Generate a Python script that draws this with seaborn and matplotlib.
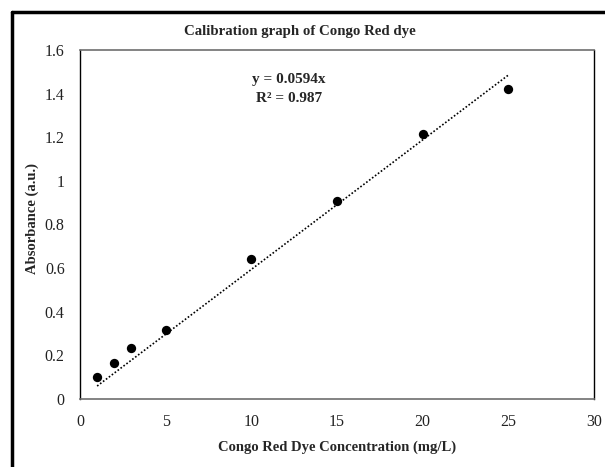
import numpy as np
import pandas as pd
import matplotlib
matplotlib.use("Agg")
import matplotlib.pyplot as plt
import seaborn as sns

# Calibration measurements
concentration = [1, 2, 3, 5, 10, 15, 20, 25]          # mg/L
absorbance = [0.101, 0.165, 0.235, 0.316, 0.640, 0.910, 1.215, 1.420]
slope = 0.0594
r_squared = 0.987

x_ticks = [0, 5, 10, 15, 20, 25, 30]
y_ticks = [0, 0.2, 0.4, 0.6, 0.8, 1.0, 1.2, 1.4, 1.6]
y_tick_labels = ["0", "0.2", "0.4", "0.6", "0.8", "1", "1.2", "1.4", "1.6"]

sns.set_style("white")
plt.rcParams["font.family"] = ["Liberation Serif", "DejaVu Serif"]

df = pd.DataFrame({"conc": concentration, "abs": absorbance})
trend = pd.DataFrame({"conc": [concentration[0], concentration[-1]]})
trend["abs"] = slope * trend["conc"]

fig = plt.figure(figsize=(6.05, 4.67), dpi=100)
ax = fig.add_axes([80 / 605, 1 - 399 / 467, 514 / 605, 349 / 467])

sns.lineplot(data=trend, x="conc", y="abs", ax=ax, color="black",
             linestyle=(0, (1, 1.2)), linewidth=1.2)
sns.scatterplot(data=df, x="conc", y="abs", ax=ax, color="black",
                s=45, edgecolor="black", linewidth=0, zorder=3)

ax.set_xlim(0, 30)
ax.set_ylim(0, 1.6)
ax.set_xticks(x_ticks)
ax.set_yticks(y_ticks)
ax.set_yticklabels(y_tick_labels)
ax.tick_params(axis="both", direction="out", length=5, width=1,
               color="black", labelsize=11.5, labelcolor="#222222")
ax.tick_params(axis="x", pad=6)
ax.tick_params(axis="y", pad=6)

for side in ["left", "right"]:
    ax.spines[side].set_color("black")
    ax.spines[side].set_linewidth(1)
for side in ["top", "bottom"]:
    ax.spines[side].set_color("#6e6e6e")
    ax.spines[side].set_linewidth(1.2)

ax.set_xlabel("Congo Red Dye Concentration (mg/L)", fontsize=10.5,
              fontweight="bold")
ax.xaxis.set_label_coords(0.5, -(447 - 399) / 349)
ax.xaxis.label.set_va("center")
ax.set_ylabel("Absorbance (a.u.)", fontsize=10.5, fontweight="bold")
ax.yaxis.set_label_coords(-(80 - 32) / 514, (399 - 218) / 349)
ax.yaxis.label.set_va("center")

fig.text(300 / 605, 1 - 32 / 467, "Calibration graph of Congo Red dye",
         ha="center", va="center", fontsize=10.7, fontweight="bold")

ax.text(289 / 605, 1 - 80 / 467, f"y = {slope}x", transform=fig.transFigure,
        ha="center", va="center", fontsize=11, fontweight="bold")
ax.text(289 / 605, 1 - 98 / 467, f"R² = {r_squared}", transform=fig.transFigure,
        ha="center", va="center", fontsize=11, fontweight="bold")

# Outer chart frame (left and top edges)
fig.add_artist(plt.Line2D([12 / 605, 12 / 605], [0, 1 - 12 / 467],
                          transform=fig.transFigure, color="black", linewidth=2.5))
fig.add_artist(plt.Line2D([12 / 605, 1], [1 - 12 / 467, 1 - 12 / 467],
                          transform=fig.transFigure, color="black", linewidth=2.5))

fig.savefig("out.png", dpi=100)
